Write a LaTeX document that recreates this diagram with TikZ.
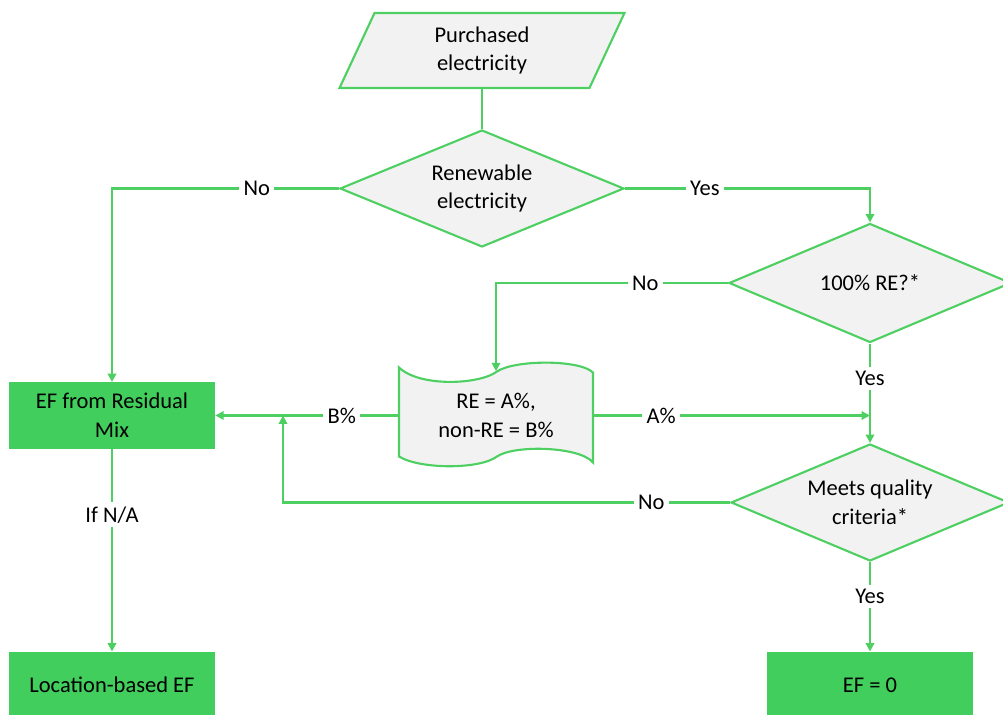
\documentclass[tikz,border=0pt]{standalone}
\usepackage{fontspec}
\setmainfont{Carlito}
\usetikzlibrary{shapes.geometric,arrows.meta,backgrounds}
\definecolor{flowgreen}{RGB}{77,208,97}
\definecolor{boxgreen}{RGB}{65,206,92}
\definecolor{panegray}{RGB}{242,242,242}
\begin{document}
\begin{tikzpicture}[
  decision/.style={diamond, shape aspect=2.4, draw=flowgreen, fill=panegray, line width=1.5pt, inner sep=0pt, align=center},
  result/.style={rectangle, fill=boxgreen, minimum width=5.15cm, minimum height=1.66cm, align=center},
  plain/.style={align=center, inner sep=0pt},
  flow/.style={-{Triangle[length=6pt,width=6pt]}, flowgreen, line width=1.6pt},
  link/.style={flowgreen, line width=1.6pt},
  lbl/.style={fill=white, text=black, inner sep=3pt},
  outline/.style={draw=flowgreen, fill=panegray, line width=1.5pt},
  node distance=2cm,
  font=\fontsize{16}{20.5}\selectfont
]
\useasboundingbox (-12.05,1.2625) rectangle (13.025,-16.6125);

\node[plain, minimum width=6.25cm, minimum height=1.875cm] (purchased) at (0,0) {Purchased\\electricity};
\node[decision, below of=purchased, node distance=3.45cm, minimum width=7.1cm, minimum height=2.925cm] (renew) {Renewable\\electricity};
\node[decision, right of=renew, node distance=9.7cm, yshift=-2.3625cm, minimum width=7.05cm, minimum height=2.975cm] (re100) {100\% RE?*};
\node[decision, below of=re100, node distance=5.4875cm, minimum width=6.95cm, minimum height=2.925cm] (quality) {Meets quality\\criteria*};
\node[result, below of=quality, node distance=4.5625cm] (zero) {EF = 0};
\node[result, left of=renew, node distance=9.25cm, yshift=-5.675cm] (resid) {EF from Residual\\Mix};
\node[result, below of=resid, node distance=6.7375cm] (locbased) {Location-based EF};
\node[plain, right of=resid, node distance=9.6cm, minimum width=4.85cm, minimum height=2.2cm] (tape) {RE = A\%,\\non-RE = B\%};

\coordinate (ajoin) at (re100 |- tape);
\coordinate (bjoin) at ([xshift=4.275cm]resid.center);

% shapes behind the text
\begin{scope}[on background layer, shift={(purchased.center)}, x=0.025cm, y=-0.025cm]
  \draw[outline] (-142.5,37.5) -- (-107.5,-37.5) -- (142.5,-37.5) -- (107.5,37.5) -- cycle;
\end{scope}
\begin{scope}[on background layer, shift={(tape.center)}, x=0.025cm, y=-0.025cm]
  \draw[outline] (-97,-48) .. controls (-76,-28) and (-16,-31) .. (1,-44)
    .. controls (19,-56) and (84,-56) .. (97,-43) -- (97,47)
    .. controls (84,31) and (19,29) .. (1,41)
    .. controls (-16,54) and (-76,54) .. (-97,41) -- cycle;
\end{scope}

\draw[link] (purchased.south) -- (renew.north);
\draw[flow] (renew.west) -| node[lbl, pos=0.181] {No} (resid.north);
\draw[flow] (renew.east) -| node[lbl, pos=0.163] {Yes} (re100.north);
\draw[flow] (re100.west) -| node[lbl, pos=0.178] {No} (tape.north);
\draw[flow] (re100.south) -- node[lbl, pos=0.353] {Yes} (quality.north);
\draw[flow] (tape.west) -- node[lbl, pos=0.31] {B\%} (resid.east);
\draw[flow] (tape.east) -- node[lbl, pos=0.245] {A\%} (ajoin);
\draw[flow] (quality.west) -| node[lbl, pos=0.088] {No} (bjoin);
\draw[flow] (quality.south) -- node[lbl, pos=0.385] {Yes} (zero.north);
\draw[flow] (resid.south) -- node[lbl, pos=0.325] {If N/A} (locbased.north);
\end{tikzpicture}
\end{document}
